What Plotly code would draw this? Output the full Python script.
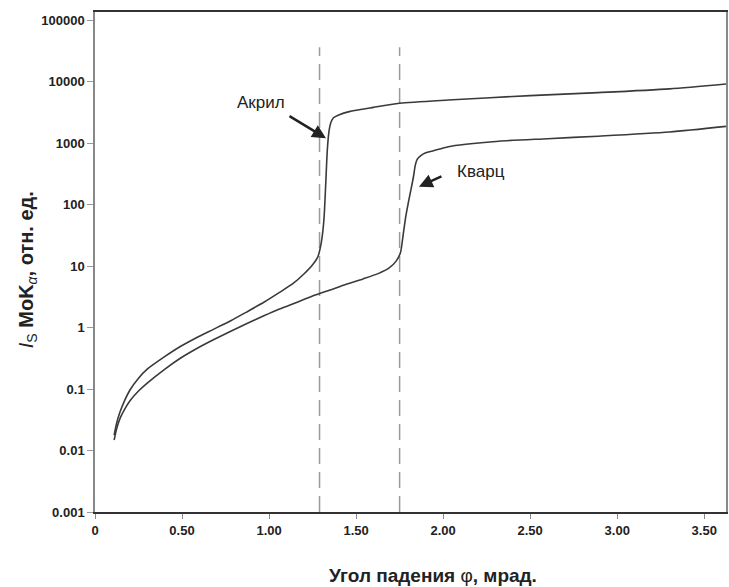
import numpy as np
import plotly.graph_objects as go

# Acrylic curve (angle, mrad; intensity, rel. units)
acryl_x = [0.11, 0.125, 0.143, 0.17, 0.20, 0.25, 0.30, 0.40, 0.49, 0.58, 0.68, 0.78, 0.87, 0.97,
           1.06, 1.14, 1.20, 1.25, 1.28, 1.30, 1.315, 1.325, 1.335, 1.345, 1.355, 1.37,
           1.40, 1.46, 1.60, 1.75, 2.03, 2.50, 2.89, 3.30, 3.625]
acryl_y = [0.0178, 0.0282, 0.0417, 0.0646, 0.0955, 0.150, 0.210, 0.335, 0.490, 0.676, 0.933, 1.29,
           1.78, 2.57, 3.72, 5.25, 7.41, 10.5, 14.1, 24, 56, 200, 800, 1600, 2150, 2570,
           2850, 3240, 3800, 4420, 5000, 5900, 6600, 7600, 9100]

# Quartz curve
quartz_x = [0.11, 0.125, 0.145, 0.17, 0.20, 0.25, 0.30, 0.40, 0.49, 0.58, 0.68, 0.78, 0.87, 0.97,
            1.06, 1.15, 1.25, 1.35, 1.44, 1.54, 1.63, 1.69, 1.73, 1.755, 1.77, 1.785, 1.80,
            1.815, 1.83, 1.84, 1.85, 1.87, 1.90, 1.94, 2.03, 2.13, 2.32, 2.60, 2.89, 3.30, 3.625]
quartz_y = [0.0148, 0.0229, 0.0339, 0.0468, 0.064, 0.093, 0.125, 0.209, 0.316, 0.447, 0.631, 0.871,
            1.15, 1.55, 2.0, 2.51, 3.24, 4.07, 5.01, 6.17, 7.59, 9.3, 12, 16.6, 31.6, 63, 107,
            174, 288, 437, 537, 617, 692, 741, 871, 955, 1070, 1175, 1290, 1510, 1860]

# Critical angles (dashed lines)
crit_x = [1.29, 1.75]
crit_top = 36000

x_tickvals = [0, 0.5, 1.0, 1.5, 2.0, 2.5, 3.0, 3.5]
x_ticktext = ["0", "0.50", "1.00", "1.50", "2.00", "2.50", "3.00", "3.50"]
y_tickvals = [0.001, 0.01, 0.1, 1, 10, 100, 1000, 10000, 100000]
y_ticktext = ["0.001", "0.01", "0.1", "1", "10", "100", "1000", "10000", "100000"]

FONT = "Liberation Sans, Arial, sans-serif"
fig = go.Figure()

for cx in crit_x:
    fig.add_trace(go.Scatter(x=[cx, cx], y=[0.001, crit_top], mode="lines",
                             line=dict(color="#9a9a9a", width=1.5, dash="16px,8px"),
                             hoverinfo="skip", showlegend=False))

fig.add_trace(go.Scatter(x=acryl_x, y=acryl_y, mode="lines", name="Акрил",
                         line=dict(color="#3a3a3a", width=1.6, shape="spline", smoothing=0.7),
                         showlegend=False))
fig.add_trace(go.Scatter(x=quartz_x, y=quartz_y, mode="lines", name="Кварц",
                         line=dict(color="#3a3a3a", width=1.6, shape="spline", smoothing=0.7),
                         showlegend=False))

L, R, T, B = 95, 1, 12, 75
W, H = 729, 587
pw, ph = W - L - R, H - T - B

fig.update_layout(
    width=W, height=H,
    margin=dict(l=L, r=R, t=T, b=B),
    plot_bgcolor="white", paper_bgcolor="white",
    font=dict(family=FONT, color="#222"),
    xaxis=dict(range=[0, 3.625], tickvals=x_tickvals,
               ticktext=["<b>%s</b>" % t for t in x_ticktext],
               tickfont=dict(size=13, color="#222"),
               ticks="outside", ticklen=5, tickcolor="#888", tickwidth=1,
               showline=True, linecolor="#333", linewidth=2, mirror=True,
               showgrid=False, zeroline=False),
    yaxis=dict(type="log", range=[-3, 5.13], tickvals=y_tickvals,
               ticktext=["<b>%s</b>" % t for t in y_ticktext],
               tickfont=dict(size=13, color="#222"),
               ticks="outside", ticklen=6, tickcolor="#999", tickwidth=1,
               showline=True, linecolor="#888", linewidth=1.5, mirror=True,
               showgrid=False, zeroline=False),
)

annotations = [
    dict(x=1.327, y=np.log10(1195), xref="x", yref="y", text="", showarrow=True,
         arrowhead=2, arrowsize=1.1, arrowwidth=2.5, arrowcolor="#222", ax=-38, ay=-23),
    dict(x=1.861, y=np.log10(195), xref="x", yref="y", text="", showarrow=True,
         arrowhead=2, arrowsize=1.1, arrowwidth=2.5, arrowcolor="#222", ax=24, ay=-11),
    dict(x=(262 - L) / pw, y=(H - B - 102) / ph, xref="paper", yref="paper",
         text="Акрил", showarrow=False, font=dict(size=17, color="#222", family=FONT),
         xanchor="center", yanchor="middle"),
    dict(x=(482 - L) / pw, y=(H - B - 172) / ph, xref="paper", yref="paper",
         text="Кварц", showarrow=False, font=dict(size=17, color="#222", family=FONT),
         xanchor="center", yanchor="middle"),
    dict(x=(434 - L) / pw, y=(H - B - 575) / ph, xref="paper", yref="paper",
         text="<b>Угол падения </b>φ<b>, мрад.</b>", showarrow=False,
         font=dict(size=19, color="#222", family=FONT), xanchor="center", yanchor="middle"),
    dict(x=(27 - L) / pw, y=(H - B - 270) / ph, xref="paper", yref="paper",
         text="<i>I</i><sub>S</sub> <b>MoK</b><sub><i>α</i></sub><b>, отн. ед.</b>",
         showarrow=False, textangle=-90,
         font=dict(size=20, color="#222", family=FONT), xanchor="center", yanchor="middle"),
]
fig.update_layout(annotations=annotations)

fig.write_html("out.html", config={"displayModeBar": False},
               post_script="document.body.style.margin='0';document.body.style.overflow='hidden';")
